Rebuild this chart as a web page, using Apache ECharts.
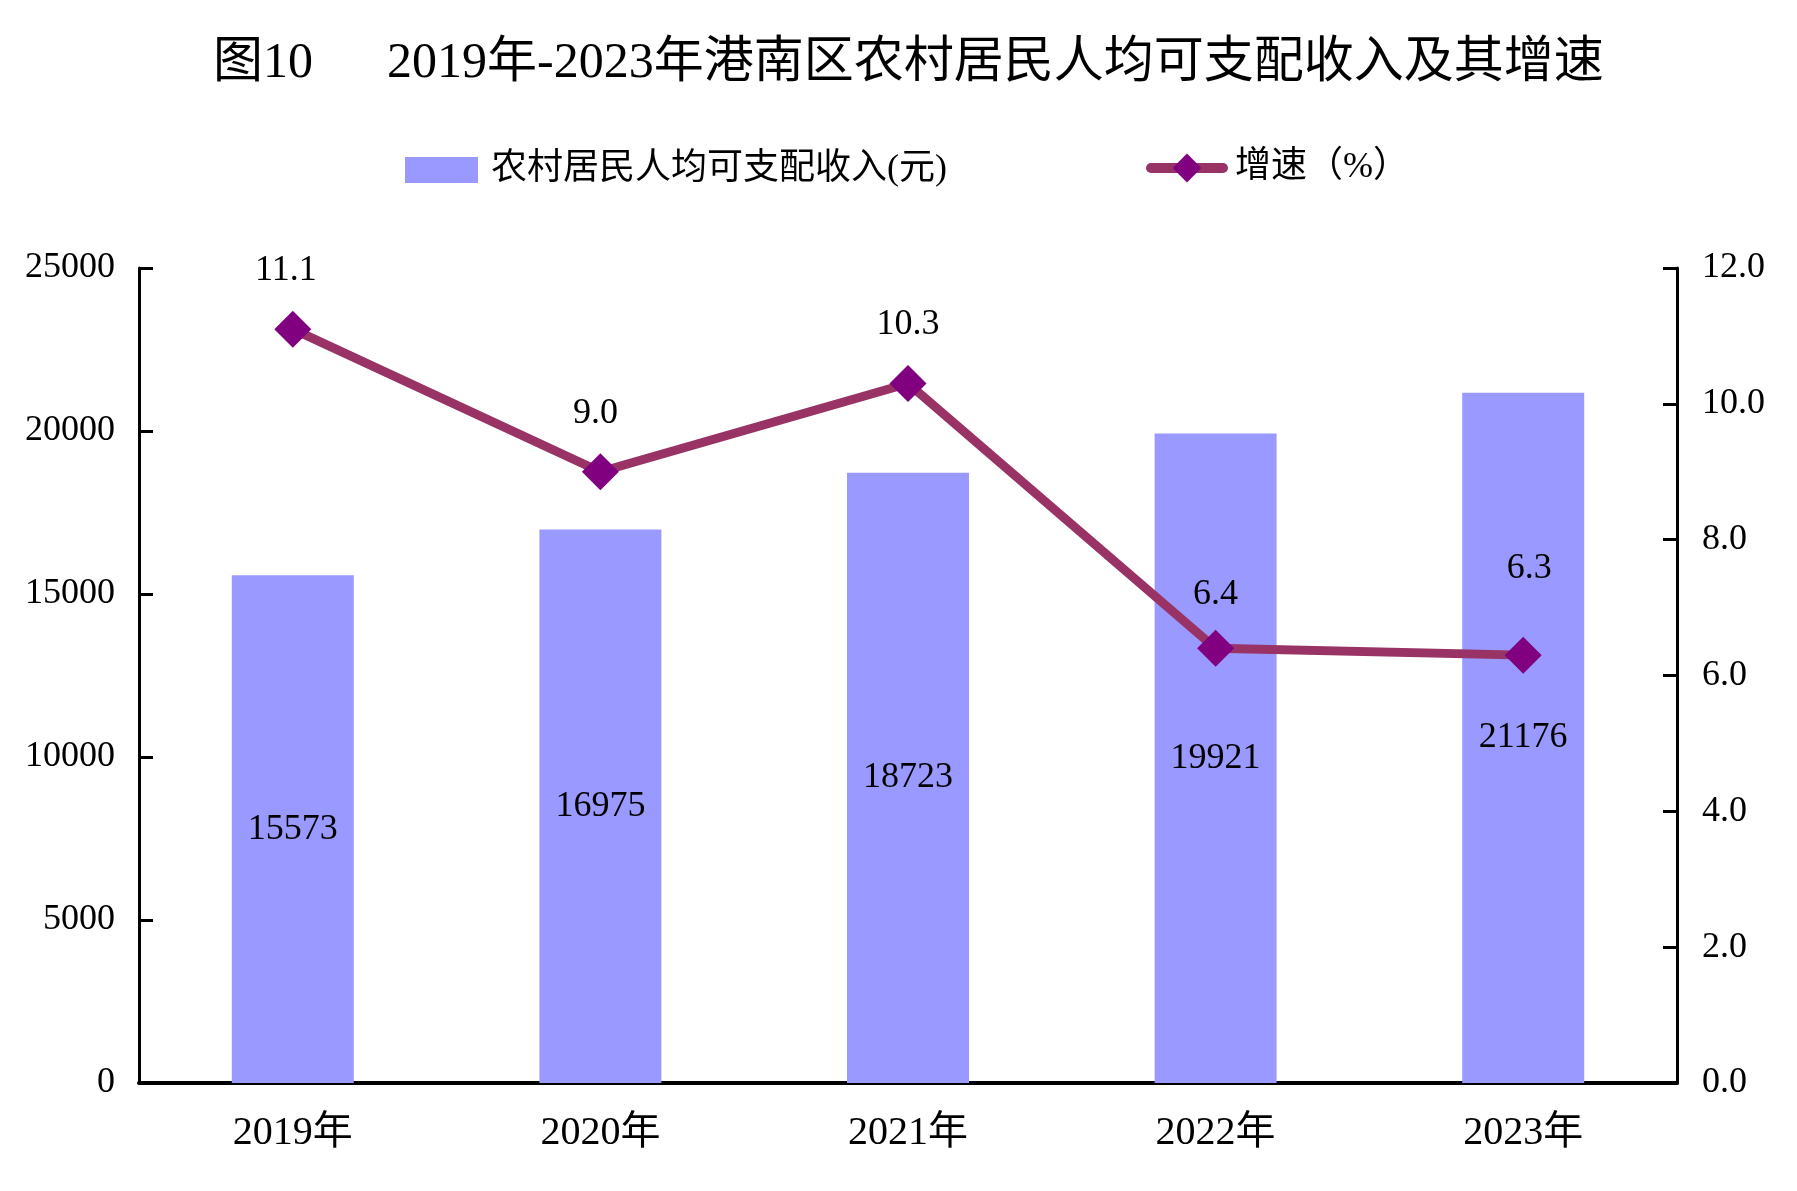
<!DOCTYPE html>
<html>
<head>
<meta charset="utf-8">
<title>图10 2019年-2023年港南区农村居民人均可支配收入及其增速</title>
<script src="https://cdn.jsdelivr.net/npm/echarts@6/dist/echarts.min.js"></script>
<style>
  html, body { margin: 0; padding: 0; background: #fff; }
  #chart { width: 1797px; height: 1191px; }
</style>
</head>
<body>
<div id="chart"></div>
<script>
// 数据
var years = ['2019年', '2020年', '2021年', '2022年', '2023年'];
var income = [15573, 16975, 18723, 19921, 21176];
var growth = [11.1, 9.0, 10.3, 6.4, 6.3];
var incomeTicks = [0, 25000, 5000];   // min, max, interval
var growthTicks = [0, 12, 2];

var FONT = "'Liberation Serif', 'Noto Sans CJK SC', serif";

// 增速标签的位置微调
var growthLabelDist = [22, 22, 22, 17, 50];
var growthLabelDx = [-7, -5, 0, 0, 6];

var chart = echarts.init(document.getElementById('chart'));

chart.setOption({
    backgroundColor: '#fff',
    textStyle: { fontFamily: FONT, color: '#000' },
    title: {
        text: '{a|图10}{b|2019年-2023年港南区农村居民人均可支配收入及其增速}',
        left: 208,
        top: 34,
        textStyle: {
            fontWeight: 'normal',
            rich: {
                a: { fontFamily: FONT, fontSize: 50, fontWeight: 'normal', color: '#000', width: 174 },
                b: { fontFamily: FONT, fontSize: 50, fontWeight: 'normal', color: '#000' }
            }
        }
    },
    legend: [
        {
            data: [{ name: '农村居民人均可支配收入(元)', icon: 'rect' }],
            left: 405,
            top: 152,
            padding: 0,
            itemWidth: 73,
            itemHeight: 26,
            textStyle: { fontFamily: FONT, fontSize: 36, color: '#000', padding: [0, 0, 0, 8] }
        },
        {
            data: ['增速（%）'],
            left: 1146,
            top: 150,
            padding: 0,
            itemWidth: 72,
            itemHeight: 36,
            lineStyle: { width: 10, cap: 'round' },
            textStyle: { fontFamily: FONT, fontSize: 36, color: '#000', padding: [0, 0, 0, 7] }
        }
    ],
    grid: {
        left: 139,
        right: 120,
        top: 268,
        bottom: 108,
        containLabel: false
    },
    xAxis: {
        type: 'category',
        data: years,
        axisLine: { lineStyle: { color: '#000', width: 4 } },
        axisTick: { inside: true, length: 15, lineStyle: { color: '#000', width: 2 } },
        axisLabel: { fontFamily: FONT, fontSize: 40, color: '#000', margin: 30 }
    },
    yAxis: [
        {
            type: 'value',
            min: incomeTicks[0],
            max: incomeTicks[1],
            interval: incomeTicks[2],
            splitLine: { show: false },
            axisLine: { show: true, lineStyle: { color: '#000', width: 3 } },
            axisTick: { show: true, inside: true, length: 14, lineStyle: { color: '#000', width: 3 } },
            axisLabel: {
                fontFamily: FONT, fontSize: 36, color: '#000', margin: 24,
                formatter: function (v) { return String(v); }
            }
        },
        {
            type: 'value',
            min: growthTicks[0],
            max: growthTicks[1],
            interval: growthTicks[2],
            splitLine: { show: false },
            axisLine: { show: true, lineStyle: { color: '#000', width: 3 } },
            axisTick: { show: true, inside: true, length: 14, lineStyle: { color: '#000', width: 3 } },
            axisLabel: {
                fontFamily: FONT, fontSize: 36, color: '#000', margin: 25,
                formatter: function (v) { return v.toFixed(1); }
            }
        }
    ],
    series: [
        {
            name: '农村居民人均可支配收入(元)',
            type: 'bar',
            data: income,
            barWidth: 122,
            itemStyle: { color: '#9999FF' },
            label: {
                show: true,
                position: 'inside',
                fontFamily: FONT,
                fontSize: 36,
                color: '#000'
            }
        },
        {
            name: '增速（%）',
            type: 'line',
            yAxisIndex: 1,
            data: growth.map(function (v, i) {
                return {
                    value: v,
                    label: { distance: growthLabelDist[i], offset: [growthLabelDx[i], 0] }
                };
            }),
            symbol: 'diamond',
            symbolSize: 37,
            lineStyle: { color: '#993366', width: 9 },
            itemStyle: { color: '#800080' },
            label: {
                show: true,
                position: 'top',
                fontFamily: FONT,
                fontSize: 36,
                color: '#000',
                formatter: function (p) { return p.value.toFixed(1); }
            },
            z: 3
        }
    ]
});

window.onresize = function () {
    chart.resize();
};
</script>
</body>
</html>
